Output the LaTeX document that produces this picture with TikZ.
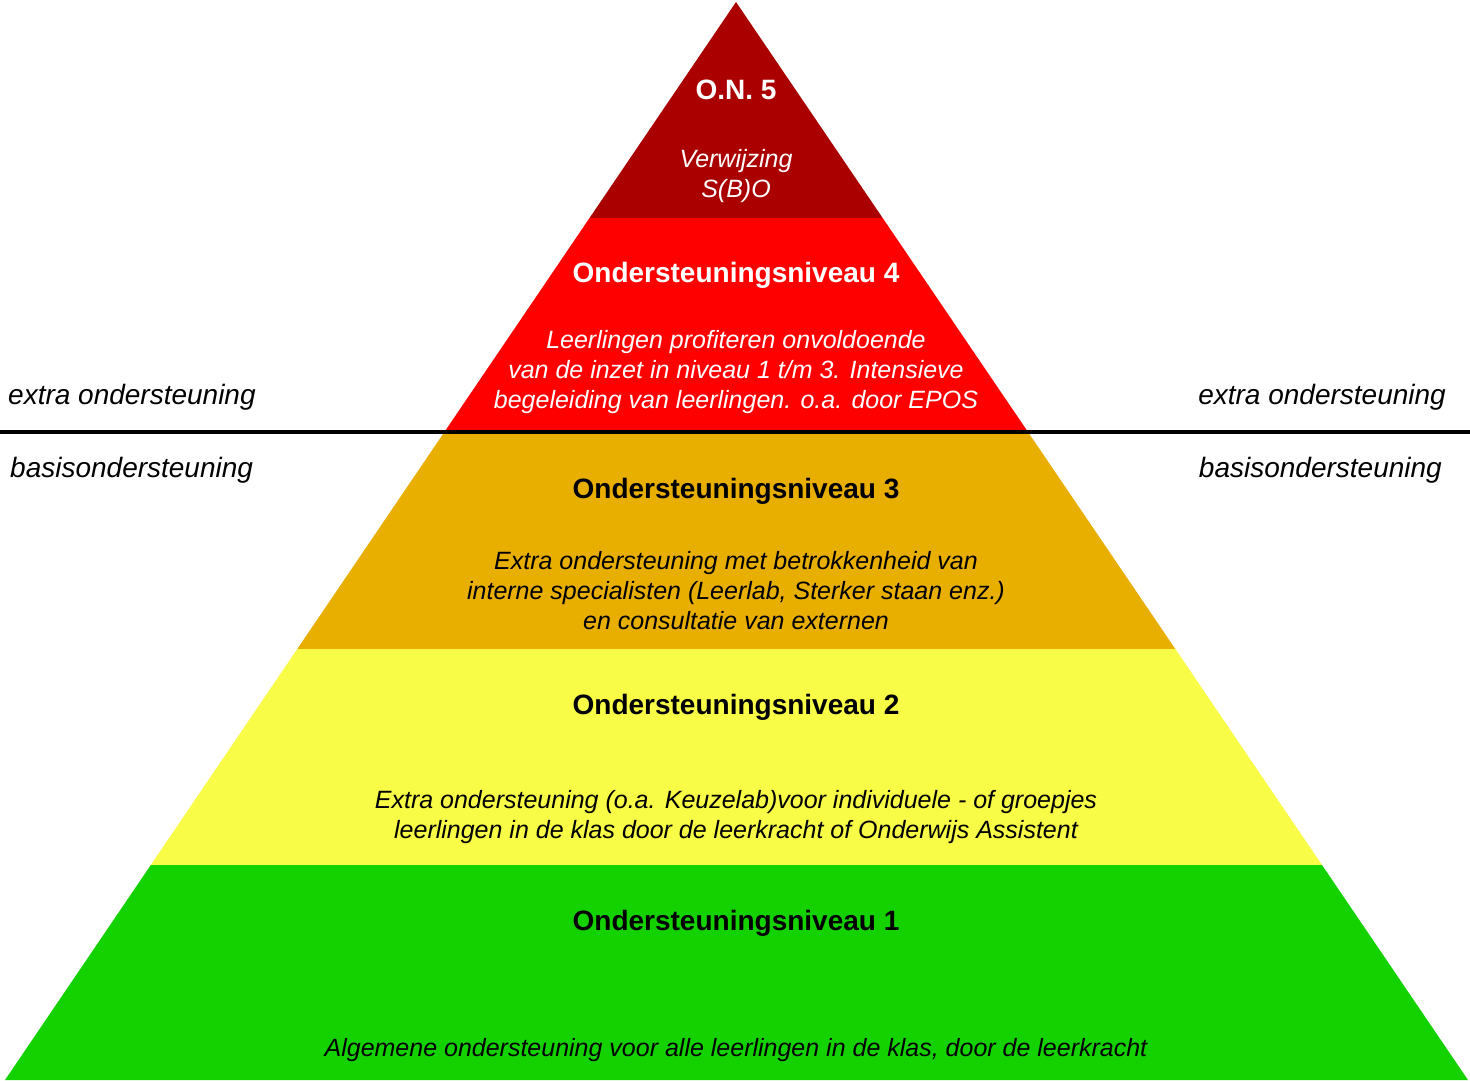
\documentclass[tikz,border=0pt]{standalone}
\usepackage{fontspec}
\setmainfont{Liberation Sans}
\definecolor{lvlfive}{RGB}{170,0,0}
\definecolor{lvlfour}{RGB}{255,0,0}
\definecolor{lvlthree}{RGB}{232,174,0}
\definecolor{lvltwo}{RGB}{248,252,70}
\definecolor{lvlone}{RGB}{20,210,0}
\begin{document}
\begin{tikzpicture}[x=1pt,y=-1pt,
  ttl/.style={anchor=base, inner sep=0pt, font=\fontsize{28}{34}\selectfont\bfseries},
  bdy/.style={anchor=base, inner sep=0pt, font=\fontsize{25}{30}\selectfont\itshape},
  sidelbl/.style={inner sep=0pt, font=\fontsize{28}{34}\selectfont\itshape},
  divider/.style={line width=4pt, black}]
\useasboundingbox (0,0) rectangle (1470,1080);
\fill[white] (0,0) rectangle (1470,1080);
\begin{scope}
  \clip (736,2) -- (1468,1080) -- (5,1080) -- cycle;
  \fill[lvlfive] (0,0) rectangle (1470,218);
  \fill[lvlfour] (0,218) rectangle (1470,433);
  \fill[lvlthree] (0,433) rectangle (1470,649);
  \fill[lvltwo] (0,649) rectangle (1470,865);
  \fill[lvlone] (0,865) rectangle (1470,1081);
\end{scope}
\coordinate (divL) at (0,432);
\coordinate (divR) at (1470,432);
\draw[divider] (divL) -- (divR);
% level 5
\node[ttl, white] (t5) at (736,99.5) {O.N. 5};
\node[bdy, white] (b5a) at (736,167) {Verwijzing};
\node[bdy, white] (b5b) at (736,197) {S(B)O};
% level 4
\node[ttl, white] (t4) at (736,282.5) {Ondersteuningsniveau 4};
\node[bdy, white] (b4a) at (736,348) {Leerlingen profiteren onvoldoende};
\node[bdy, white] (b4b) at (736,378) {van de inzet in niveau 1 t/m 3. Intensieve};
\node[bdy, white] (b4c) at (736,408) {begeleiding van leerlingen. o.a. door EPOS};
% level 3
\node[ttl] (t3) at (736,498.5) {Ondersteuningsniveau 3};
\node[bdy] (b3a) at (736,569) {Extra ondersteuning met betrokkenheid van};
\node[bdy] (b3b) at (736,599) {interne specialisten (Leerlab, Sterker staan enz.)};
\node[bdy] (b3c) at (736,629) {en consultatie van externen};
% level 2
\node[ttl] (t2) at (736,714.5) {Ondersteuningsniveau 2};
\node[bdy] (b2a) at (736,808) {Extra ondersteuning (o.a. Keuzelab)voor individuele - of groepjes};
\node[bdy] (b2b) at (736,838) {leerlingen in de klas door de leerkracht of Onderwijs Assistent};
% level 1
\node[ttl] (t1) at (736,930.5) {Ondersteuningsniveau 1};
\node[bdy] (b1a) at (736,1056) {Algemene ondersteuning voor alle leerlingen in de klas, door de leerkracht};
% side labels
\node[sidelbl, anchor=base west] (exL) at (8,404) {extra ondersteuning};
\node[sidelbl, anchor=base east] (exR) at (1446,404) {extra ondersteuning};
\node[sidelbl, anchor=base west] (baL) at (10,477) {basisondersteuning};
\node[sidelbl, anchor=base east] (baR) at (1442,477) {basisondersteuning};
\end{tikzpicture}
\end{document}
